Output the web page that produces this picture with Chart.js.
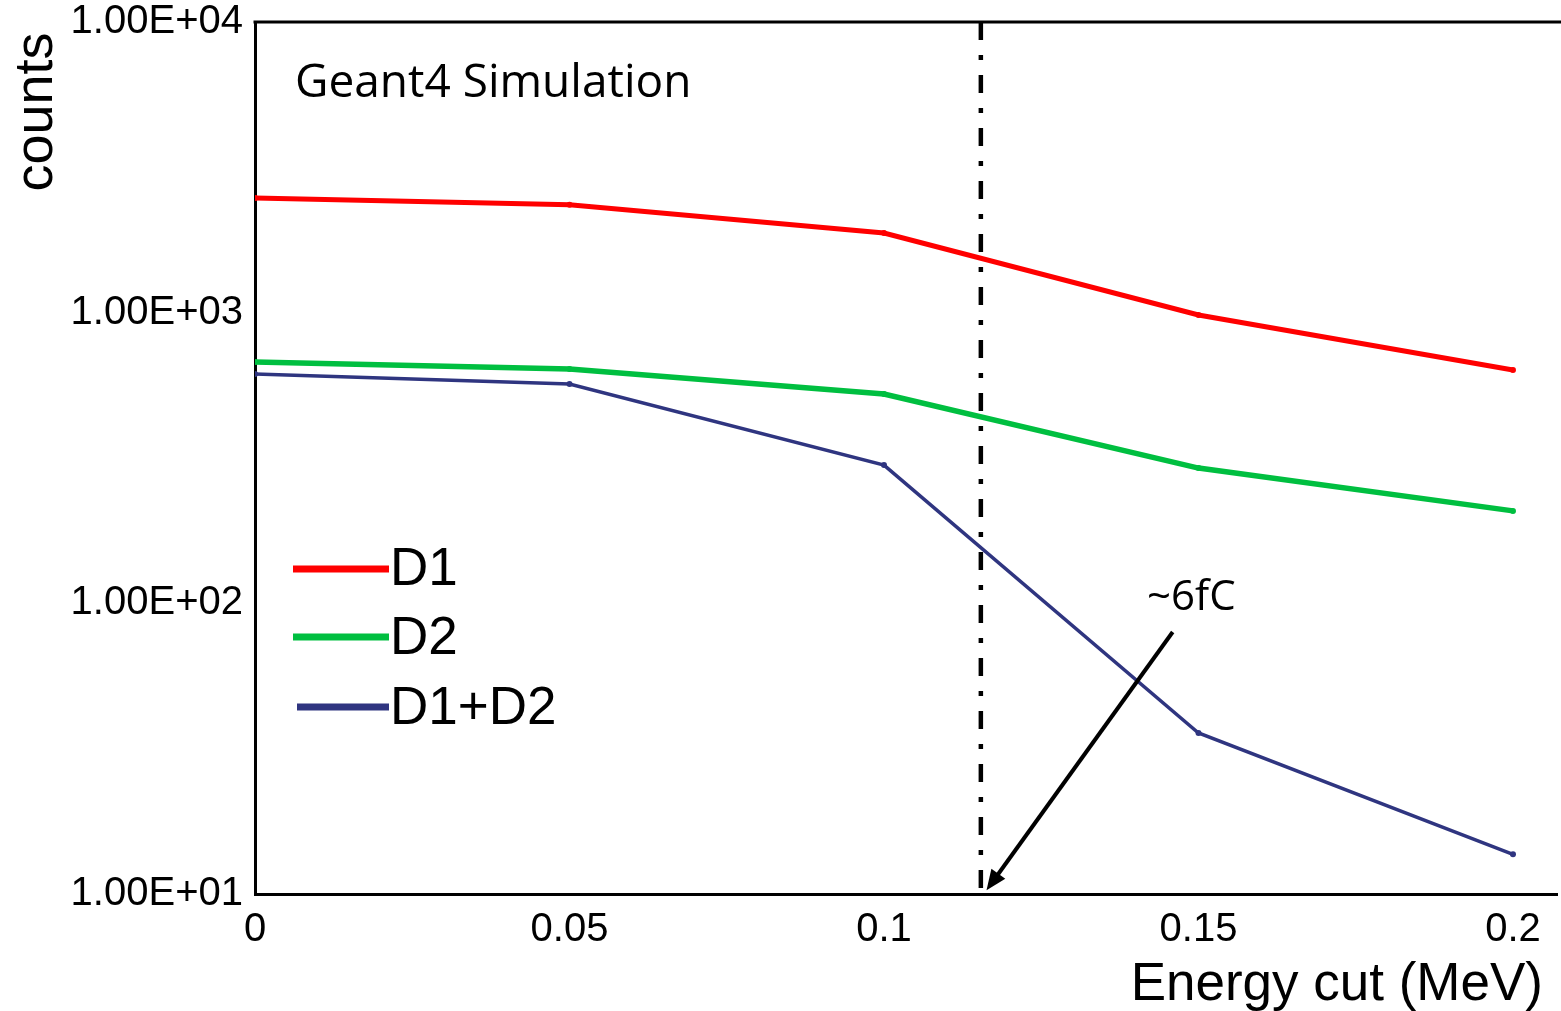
<!DOCTYPE html>
<html>
<head>
<meta charset="utf-8">
<script src="https://cdn.jsdelivr.net/npm/chart.js@4.4.1/dist/chart.umd.min.js"></script>
<style>
  html, body { margin: 0; padding: 0; background: #fff; }
  #wrap { width: 1561px; height: 1011px; }
</style>
</head>
<body>
<div id="wrap"><canvas id="cutChart" width="1561" height="1011"></canvas></div>
<script>
// values
const energyCut = [0, 0.05, 0.1, 0.15, 0.2];
const d1Counts = [2480, 2350, 1880, 982, 635];
const d2Counts = [677, 640, 525, 292, 208];
const d1d2Counts = [615, 568, 299, 35.8, 13.7];
const seriesNames = ["D1", "D2", "D1+D2"];
const seriesColors = ["#ff0000", "#00bf40", "#2f3580"];

const xTicks = [0, 0.05, 0.1, 0.15, 0.2];
const xTickLabels = ["0", "0.05", "0.1", "0.15", "0.2"];
const yTicks = [10, 100, 1000, 10000];
const yTickLabels = ["1.00E+01", "1.00E+02", "1.00E+03", "1.00E+04"];

// the ~6fC cut and its arrow
const cutEnergy = 0.1154;
const arrowFrom = { x: 0.1459, y: 79.7 };
const arrowTo = { x: 0.1163, y: 10.3 };

const toPoints = (ys) => energyCut.map((x, i) => ({ x: x, y: ys[i] }));

const lineWidths = [5, 5.5, 3.5];
const allSeries = [d1Counts, d2Counts, d1d2Counts];

const datasets = allSeries.map((ys, i) => ({
  label: seriesNames[i],
  data: toPoints(ys),
  borderColor: seriesColors[i],
  backgroundColor: seriesColors[i],
  borderWidth: lineWidths[i],
  pointRadius: 3,
  pointBorderWidth: 0,
  pointBackgroundColor: seriesColors[i],
  tension: 0,
  fill: false
}));

const tickFont = { family: "'Liberation Sans', Arial, sans-serif", size: 40 };

const extras = {
  id: 'extras',
  afterDatasetsDraw(chart) {
    const ctx = chart.ctx;
    const xs = chart.scales.x, ys = chart.scales.y;
    const area = chart.chartArea;

    // dash-dot cut line
    const cx = xs.getPixelForValue(cutEnergy);
    ctx.save();
    ctx.strokeStyle = '#000';
    ctx.lineWidth = 4.5;
    ctx.setLineDash([18, 15, 5, 15]);
    ctx.beginPath();
    ctx.moveTo(cx, area.top);
    ctx.lineTo(cx, area.bottom - 3);
    ctx.stroke();
    ctx.restore();

    // arrow
    const x1 = xs.getPixelForValue(arrowFrom.x), y1 = ys.getPixelForValue(arrowFrom.y);
    const x2 = xs.getPixelForValue(arrowTo.x), y2 = ys.getPixelForValue(arrowTo.y);
    const ang = Math.atan2(y2 - y1, x2 - x1);
    const head = 22;
    ctx.save();
    ctx.strokeStyle = '#000';
    ctx.fillStyle = '#000';
    ctx.lineWidth = 4;
    ctx.beginPath();
    ctx.moveTo(x1, y1);
    ctx.lineTo(x2 - Math.cos(ang) * head * 0.8, y2 - Math.sin(ang) * head * 0.8);
    ctx.stroke();
    ctx.beginPath();
    ctx.moveTo(x2, y2);
    ctx.lineTo(x2 - head * Math.cos(ang - 0.4), y2 - head * Math.sin(ang - 0.4));
    ctx.lineTo(x2 - head * Math.cos(ang + 0.4), y2 - head * Math.sin(ang + 0.4));
    ctx.closePath();
    ctx.fill();
    ctx.restore();
  },
  afterDraw(chart) {
    const ctx = chart.ctx;
    const area = chart.chartArea;
    ctx.save();

    // top frame line
    ctx.strokeStyle = '#000';
    ctx.lineWidth = 3;
    ctx.beginPath();
    ctx.moveTo(area.left - 1.5, area.top);
    ctx.lineTo(chart.width, area.top);
    ctx.stroke();

    // texts
    ctx.fillStyle = '#000';
    ctx.textBaseline = 'alphabetic';
    ctx.textAlign = 'left';
    ctx.font = "46px 'Open Sans', sans-serif";
    ctx.fillText("Geant4 Simulation", 295, 97);
    ctx.font = "42px 'Open Sans', sans-serif";
    ctx.fillText("~6fC", 1147, 610);

    ctx.font = "53px 'Liberation Sans', Arial, sans-serif";
    ctx.textAlign = 'right';
    ctx.fillText("Energy cut (MeV)", 1543, 1000);

    ctx.save();
    ctx.translate(52, 112);
    ctx.rotate(-Math.PI / 2);
    ctx.textAlign = 'center';
    ctx.font = "54px 'Liberation Sans', Arial, sans-serif";
    ctx.fillText("counts", 0, 0);
    ctx.restore();

    // legend
    const rows = [569, 637, 707];
    const starts = [293, 293, 297];
    const baselines = [585, 654, 724];
    ctx.textAlign = 'left';
    ctx.font = "53px 'Liberation Sans', Arial, sans-serif";
    chart.data.datasets.forEach((ds, i) => {
      ctx.strokeStyle = ds.borderColor;
      ctx.lineWidth = 7;
      ctx.beginPath();
      ctx.moveTo(starts[i], rows[i]);
      ctx.lineTo(389, rows[i]);
      ctx.stroke();
      ctx.fillStyle = '#000';
      ctx.fillText(ds.label, 390, baselines[i]);
    });
    ctx.restore();
  }
};

const ctx = document.getElementById('cutChart').getContext('2d');
const cutChart = new Chart(ctx, {
  type: 'line',
  data: { datasets: datasets },
  options: {
    responsive: false,
    animation: false,
    devicePixelRatio: 1,
    layout: { padding: { top: 22, right: 0, left: 0, bottom: 0 } },
    plugins: {
      legend: { display: false },
      tooltip: { enabled: false }
    },
    scales: {
      x: {
        type: 'linear',
        min: 0,
        max: 0.207,
        afterBuildTicks: (scale) => { scale.ticks = xTicks.map(v => ({ value: v })); },
        afterFit: (scale) => {
          scale.height = 117;
          scale.paddingLeft = 0;
          scale.paddingRight = 0;
        },
        grid: { display: false },
        border: { display: true, color: '#000', width: 3 },
        ticks: {
          autoSkip: false,
          maxRotation: 0,
          padding: 4,
          color: '#000',
          font: tickFont,
          callback: (v) => xTickLabels[xTicks.indexOf(v)]
        }
      },
      y: {
        type: 'logarithmic',
        min: 10,
        max: 10000,
        afterBuildTicks: (scale) => { scale.ticks = yTicks.map(v => ({ value: v })); },
        afterFit: (scale) => {
          scale.width = 255;
          scale.paddingTop = 0;
          scale.paddingBottom = 0;
        },
        grid: { display: false },
        border: { display: true, color: '#000', width: 3 },
        ticks: {
          autoSkip: false,
          padding: 4,
          color: '#000',
          font: tickFont,
          callback: (v) => yTickLabels[yTicks.indexOf(v)]
        }
      }
    }
  },
  plugins: [extras]
});
</script>
</body>
</html>
